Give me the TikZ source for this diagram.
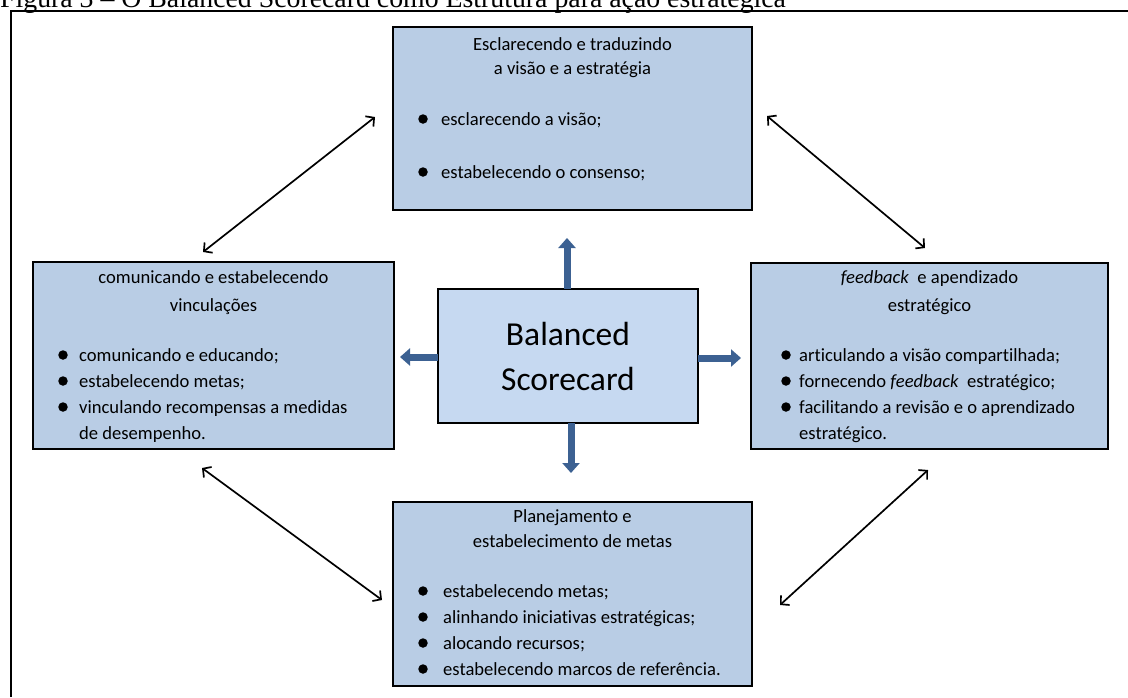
\documentclass[tikz,border=0pt]{standalone}
\usepackage{fontspec}
\setmainfont{Carlito}[Ligatures={NoCommon}]
\newfontfamily\captionfont{Liberation Serif}
\usetikzlibrary{arrows.meta}
\definecolor{panelfill}{HTML}{B9CDE5}
\definecolor{corefill}{HTML}{C6D9F1}
\definecolor{flowblue}{HTML}{3C6192}

\begin{document}
\begin{tikzpicture}[x=1pt,y=-1pt,
  panel/.style={draw=black, line width=1.8pt, fill=panelfill, anchor=north west, inner sep=0pt, outer sep=0pt},
  core/.style={panel, fill=corefill},
  head/.style={anchor=base, inner sep=0pt, font=\fontsize{18.6}{22}\selectfont},
  item/.style={anchor=base west, inner sep=0pt, font=\fontsize{18.6}{22}\selectfont},
  dot/.style={circle, fill=black, inner sep=0pt, minimum size=9.5pt},
  big/.style={anchor=base, inner sep=0pt, font=\fontsize{33.5}{40}\selectfont},
  link/.style={line width=1.7pt, {Straight Barb[length=6pt,width=13pt]}-{Straight Barb[length=6pt,width=13pt]}},
  flow/.style={draw=flowblue, line width=7pt, -{Triangle[length=10pt,width=17pt]}}]

\useasboundingbox (0,0) rectangle (1128,697);

% caption, partly above the page edge
\node[anchor=base west, inner sep=0pt, font=\captionfont\fontsize{27.8}{30}\selectfont] (caption) at (0,7)
  {Figura 3 – O Balanced Scorecard como Estrutura para ação estratégica};

% frame lines
\draw[line width=2pt] (11,697) -- (11,11) -- (1128,11);

% panels
\node[panel, minimum width=359pt, minimum height=183pt] (vision) at (393,27) {};
\node[panel, minimum width=361pt, minimum height=187pt] (comm) at (33,262) {};
\node[panel, minimum width=357pt, minimum height=186pt] (learn) at (751,263) {};
\node[panel, minimum width=359pt, minimum height=184pt] (plan) at (393,502) {};
\node[core, minimum width=260pt, minimum height=134pt] (bsc) at (438,289) {};

% central panel text
\node[big] (bsc1) at (568,345) {Balanced};
\node[big] (bsc2) at (568,390) {Scorecard};

% top panel
\node[head] (v1) at (572.5,50) {Esclarecendo e traduzindo};
\node[head] (v2) at (572.5,74) {a visão e a estratégia};
\node[dot] (vd1) at (423,119) {};
\node[item] (vi1) at (441,125) {esclarecendo a visão;};
\node[dot] (vd2) at (423,172) {};
\node[item] (vi2) at (441,178) {estabelecendo o consenso;};

% left panel
\node[head] (c1) at (213.5,283) {comunicando e estabelecendo};
\node[head] (c2) at (213.5,311) {vinculações};
\node[dot] (cd1) at (63,355) {};
\node[item] (ci1) at (79,361) {comunicando e educando;};
\node[dot] (cd2) at (63,381) {};
\node[item] (ci2) at (79,387) {estabelecendo metas;};
\node[dot] (cd3) at (63,407) {};
\node[item] (ci3) at (79,413) {vinculando recompensas a medidas};
\node[item] (ci4) at (79,439) {de desempenho.};

% right panel
\node[head] (l1) at (929.5,283) {\textit{feedback}\ \ e apendizado};
\node[head] (l2) at (929.5,311) {estratégico};
\node[dot] (ld1) at (786,355) {};
\node[item] (li1) at (799,361) {articulando a visão compartilhada;};
\node[dot] (ld2) at (786,381) {};
\node[item] (li2) at (799,387) {fornecendo \textit{feedback}\ \ estratégico;};
\node[dot] (ld3) at (786,407) {};
\node[item] (li3) at (799,413) {facilitando a revisão e o aprendizado};
\node[item] (li4) at (799,439) {estratégico.};

% bottom panel
\node[head] (p1) at (572.5,522) {Planejamento e};
\node[head] (p2) at (572.5,547) {estabelecimento de metas};
\node[dot] (pd1) at (423,591) {};
\node[item] (pi1) at (443,597) {estabelecendo metas;};
\node[dot] (pd2) at (423,617) {};
\node[item] (pi2) at (443,623) {alinhando iniciativas estratégicas;};
\node[dot] (pd3) at (423,643) {};
\node[item] (pi3) at (443,649) {alocando recursos;};
\node[dot] (pd4) at (423,669) {};
\node[item] (pi4) at (443,675) {estabelecendo marcos de referência.};

% end points of the connectors
\coordinate (upT) at (567,238);
\coordinate (leftT) at (400,357);
\coordinate (rightT) at (741,358);
\coordinate (downT) at (571,473);
\coordinate (tlA) at (203,252);
\coordinate (tlB) at (375,117);
\coordinate (trA) at (767,116);
\coordinate (trB) at (925,248);
\coordinate (blA) at (202,468);
\coordinate (blB) at (382,600);
\coordinate (brA) at (780,605);
\coordinate (brB) at (928,470);

% blue arrows out of the central panel
\draw[flow] (bsc.north -| upT) -- (upT);
\draw[flow] (bsc.west |- leftT) -- (leftT);
\draw[flow] (bsc.east |- rightT) -- (rightT);
\draw[flow] (bsc.south -| downT) -- (downT);

% two-way links between the outer panels
\draw[link] (tlA) -- (tlB);
\draw[link] (trA) -- (trB);
\draw[link] (blA) -- (blB);
\draw[link] (brA) -- (brB);
\end{tikzpicture}
\end{document}
